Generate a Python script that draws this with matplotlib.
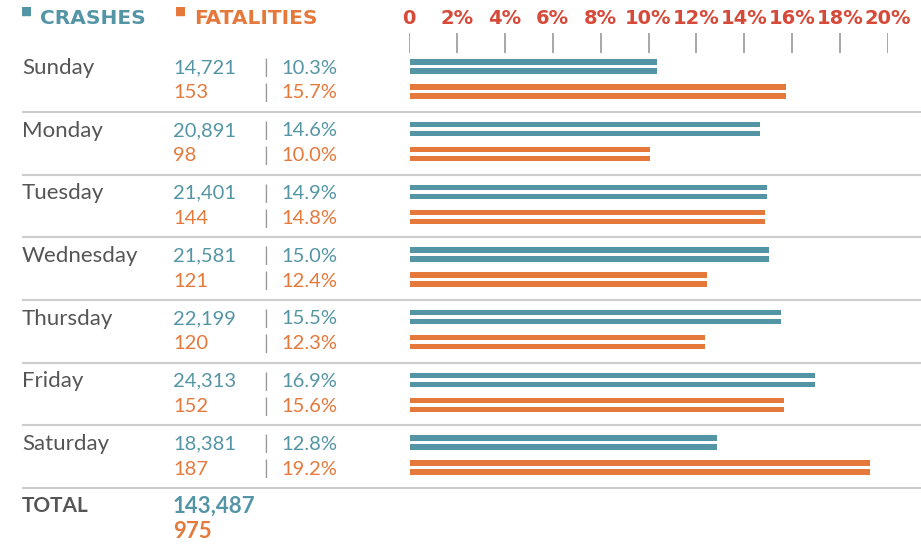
import matplotlib
matplotlib.use("Agg")
from matplotlib import pyplot as plt

# data
days = ["Sunday", "Monday", "Tuesday", "Wednesday", "Thursday", "Friday", "Saturday"]
crashes = ["14,721", "20,891", "21,401", "21,581", "22,199", "24,313", "18,381"]
crash_pct = [10.3, 14.6, 14.9, 15.0, 15.5, 16.9, 12.8]
fatalities = ["153", "98", "144", "121", "120", "152", "187"]
fatal_pct = [15.7, 10.0, 14.8, 12.4, 12.3, 15.6, 19.2]
total_crashes = "143,487"
total_fatal = "975"
ticks = [0, 2, 4, 6, 8, 10, 12, 14, 16, 18, 20]
tick_labels = ["0"] + ["%d%%" % t for t in ticks[1:]]

TEAL = "#5495a5"
ORANGE = "#e5793c"
RED = "#d64a3a"
GRAY = "#555555"

W, H = 921, 547
fig = plt.figure(figsize=(W / 100, H / 100), dpi=100)

# layout axes in pixel units for text and rules
lay = fig.add_axes([0, 0, 1, 1])
lay.set_xlim(0, W)
lay.set_ylim(H, 0)
lay.axis("off")

# bar axes: 0..20 % between x=409 and x=888
x0, x1 = 409, 888
ax = fig.add_axes([x0 / W, 0, (x1 - x0) / W, 1])
ax.set_xlim(0, 20)
ax.set_ylim(H, 0)
ax.axis("off")

font = "Lato"
heavy = "DejaVu Sans"
row0, pitch = 68, 62.67
sh = 5.5  # stripe height

# header
lay.text(21, 18, "\u25a0", color=TEAL, fontsize=8.5, va="bottom", ha="left", family=heavy)
lay.text(40, 18, "CRASHES", color=TEAL, fontsize=14.5, fontweight="bold",
         va="center", ha="left", family=heavy)
lay.text(175, 18, "\u25a0", color=ORANGE, fontsize=8.5, va="bottom", ha="left", family=heavy)
lay.text(194, 18, "FATALITIES", color=ORANGE, fontsize=14.5, fontweight="bold",
         va="center", ha="left", family=heavy)

# axis ticks and labels
for t, lab in zip(ticks, tick_labels):
    ax.text(t, 18, lab, color=RED, fontsize=14, fontweight="bold",
            ha="center", va="center", family=heavy)
ax.vlines(ticks, 33, 53, color="#999999", lw=1.2)

for i, day in enumerate(days):
    base = row0 + i * pitch
    lay.text(22, base, day, color=GRAY, fontsize=16, ha="left", va="center", family=font)
    lay.text(173, base, crashes[i], color=TEAL, fontsize=14.5, ha="left", va="center", family=font)
    lay.text(173, base + 25, fatalities[i], color=ORANGE, fontsize=14.5, ha="left", va="center", family=font)
    lay.text(266, base, "|", color="#999999", fontsize=14, ha="center", va="center", family=font)
    lay.text(266, base + 25, "|", color="#999999", fontsize=14, ha="center", va="center", family=font)
    lay.text(281, base, "%.1f%%" % crash_pct[i], color=TEAL, fontsize=14.5, ha="left", va="center", family=font)
    lay.text(281, base + 25, "%.1f%%" % fatal_pct[i], color=ORANGE, fontsize=14.5, ha="left", va="center", family=font)

    # double-stripe bars
    for dy in (-6, 3):
        ax.barh(base + dy, crash_pct[i], height=sh, left=0.05, color=TEAL, edgecolor="none")
    for dy in (19, 28):
        ax.barh(base + dy, fatal_pct[i], height=sh, left=0.05, color=ORANGE, edgecolor="none")

    # separator rule
    lay.hlines(base + 44, 22, W, color="#cccccc", lw=1.5)

# totals
lay.text(22, 506, "TOTAL", color=GRAY, fontsize=15, fontweight="bold", ha="left", va="center", family=font)
lay.text(173, 506, total_crashes, color=TEAL, fontsize=16, fontweight="bold", ha="left", va="center", family=font)
lay.text(173, 531, total_fatal, color=ORANGE, fontsize=16, fontweight="bold", ha="left", va="center", family=font)

fig.savefig("out.png", dpi=100)
